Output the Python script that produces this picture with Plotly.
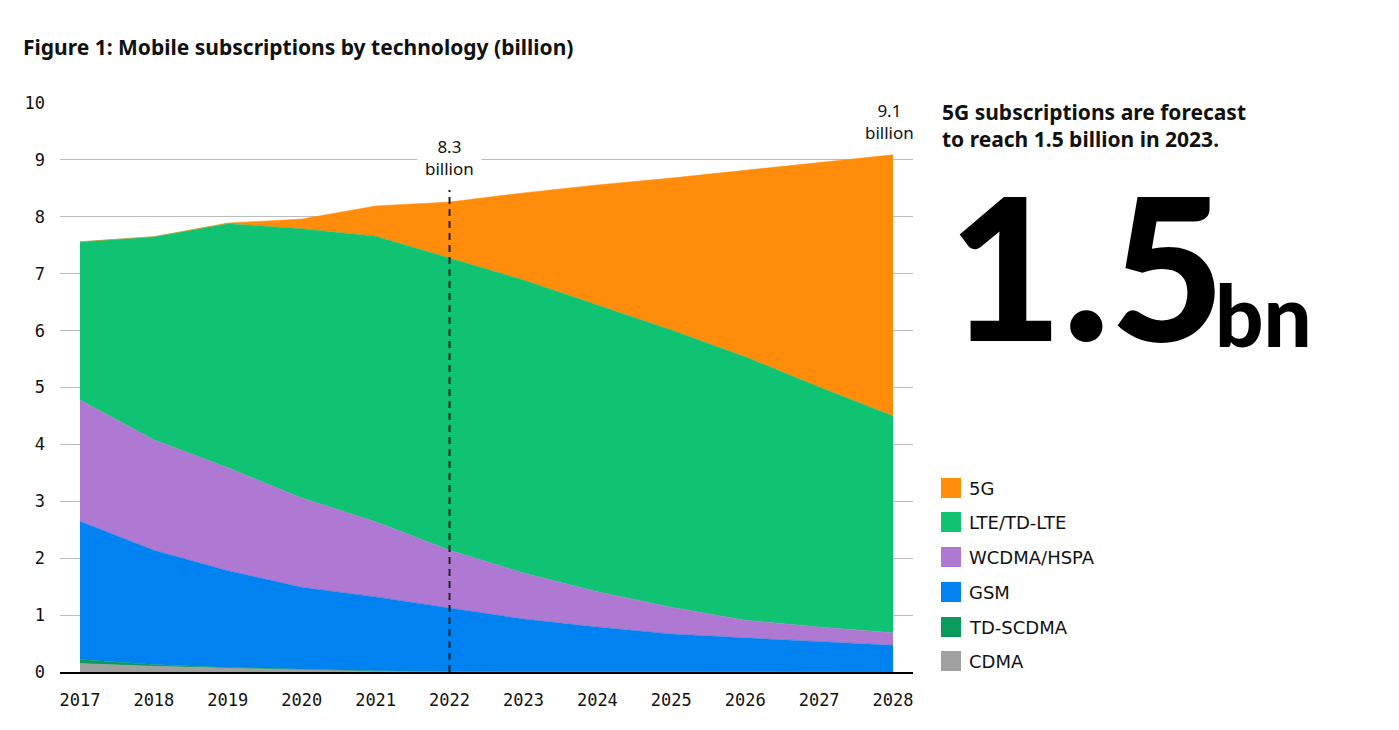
"""
Mobile subscriptions by technology (billion), 2017-2028 stacked area.
"""

import plotly.graph_objects as go

# Data
years = [2017, 2018, 2019, 2020, 2021, 2022, 2023, 2024, 2025, 2026, 2027, 2028]
cdma = [0.15, 0.10, 0.07, 0.04, 0.02, 0.01, 0.01, 0.0, 0.0, 0.0, 0.0, 0.0]
td_scdma = [0.07, 0.03, 0.01, 0.005, 0.0, 0.0, 0.0, 0.0, 0.0, 0.0, 0.0, 0.0]
gsm = [2.43, 2.01, 1.70, 1.445, 1.30, 1.11, 0.92, 0.79, 0.67, 0.60, 0.53, 0.47]
wcdma = [2.13, 1.94, 1.81, 1.57, 1.32, 1.02, 0.81, 0.62, 0.47, 0.31, 0.26, 0.22]
lte = [2.78, 3.57, 4.29, 4.73, 5.02, 5.14, 5.15, 5.04, 4.87, 4.63, 4.22, 3.81]
g5 = [0.0, 0.0, 0.01, 0.17, 0.53, 0.98, 1.53, 2.11, 2.67, 3.28, 3.94, 4.59]

# bottom to top stacking order
series_names = ["CDMA", "TD-SCDMA", "GSM", "WCDMA/HSPA", "LTE/TD-LTE", "5G"]
series_values = [cdma, td_scdma, gsm, wcdma, lte, g5]
series_colors = ["#a0a0a0", "#0a9a5a", "#0082f0", "#af78d2", "#0fc373", "#ff8c0a"]

y_ticks = list(range(0, 11))

# plot area in pixels (figure is 1399 x 730)
PL, PR, PT, PB = 60, 913, 103, 672


def px(x):
    return (x - PL) / (PR - PL)


def py(y):
    return (PB - y) / (PB - PT)


fig = go.Figure()

for name, vals, col in zip(series_names, series_values, series_colors):
    fig.add_trace(go.Scatter(
        x=years,
        y=vals,
        name=name,
        mode="lines",
        stackgroup="one",
        line=dict(color=col, width=0.5),
        fillcolor=col,
        showlegend=False,
    ))

# dashed marker at 2022
fig.add_shape(type="line", xref="x", yref="y", x0=2022, x1=2022, y0=0, y1=8.47,
              line=dict(color="#222222", width=2, dash="7px,5px"), layer="above")

annot_font = dict(family="Noto Sans, sans-serif", size=17, color="#111111")
fig.add_annotation(x=2022, y=9.05, xref="x", yref="y", text="8.3<br>billion",
                   showarrow=False, font=annot_font, bgcolor="white", borderpad=7,
                   align="center")
fig.add_annotation(x=2027.95, y=9.67, xref="x", yref="y", text="9.1<br>billion",
                   showarrow=False, font=annot_font, bgcolor="white", borderpad=6,
                   align="center")

# title
fig.add_annotation(x=px(21), y=py(47), xref="paper", yref="paper",
                   text="<b>Figure 1: Mobile subscriptions by technology (billion)</b>",
                   showarrow=False, xanchor="left", yanchor="middle",
                   font=dict(family="Noto Sans, sans-serif", size=21, color="#111111"))

# manual legend (top to bottom: 5G ... CDMA)
leg_y = [488, 522, 557, 592, 627, 661]
for i, (name, col) in enumerate(zip(series_names[::-1], series_colors[::-1])):
    yc = leg_y[i]
    fig.add_shape(type="rect", xref="paper", yref="paper",
                  x0=px(941), x1=px(961), y0=py(yc + 10), y1=py(yc - 10),
                  fillcolor=col, line=dict(width=0))
    fig.add_annotation(x=px(967), y=py(yc), xref="paper", yref="paper", text=name,
                       showarrow=False, xanchor="left", yanchor="middle",
                       font=dict(family="DejaVu Sans, sans-serif", size=18, color="#111111"))

# right-side callout
fig.add_annotation(x=px(940), y=py(125), xref="paper", yref="paper",
                   text="<b>5G subscriptions are forecast<br>to reach 1.5 billion in 2023.</b>",
                   showarrow=False, xanchor="left", yanchor="middle", align="left",
                   font=dict(family="Noto Sans, sans-serif", size=21, color="#111111"))
fig.add_annotation(x=px(946), y=py(264), xref="paper", yref="paper", text="1.5",
                   showarrow=False, xanchor="left", yanchor="middle",
                   font=dict(family="Lato, sans-serif", size=198, color="#000000", weight=900))
fig.add_annotation(x=px(1213), y=py(314), xref="paper", yref="paper", text="bn",
                   showarrow=False, xanchor="left", yanchor="middle",
                   font=dict(family="Lato, sans-serif", size=85, color="#000000", weight=900))

fig.update_layout(
    width=1399,
    height=730,
    margin=dict(l=PL, r=1399 - PR, t=PT, b=730 - PB),
    plot_bgcolor="white",
    paper_bgcolor="white",
    showlegend=False,
    xaxis=dict(
        range=[2016.73, 2028.27],
        tickmode="array",
        tickvals=years,
        ticktext=[str(y) for y in years],
        showgrid=False,
        zeroline=False,
        showline=True,
        linecolor="#000000",
        linewidth=1.6,
        ticks="",
        ticklabelstandoff=12,
        tickfont=dict(family="DejaVu Sans Mono, monospace", size=17, color="#111111"),
    ),
    yaxis=dict(
        range=[0, 10],
        tickmode="array",
        tickvals=y_ticks,
        showgrid=True,
        gridcolor="#bdbdbd",
        gridwidth=1.2,
        zeroline=False,
        showline=False,
        ticks="",
        ticklabelstandoff=14,
        tickfont=dict(family="DejaVu Sans Mono, monospace", size=17, color="#111111"),
    ),
)

fig.write_html("out.html", config={"displayModeBar": False},
               post_script="document.body.style.margin='0';")
